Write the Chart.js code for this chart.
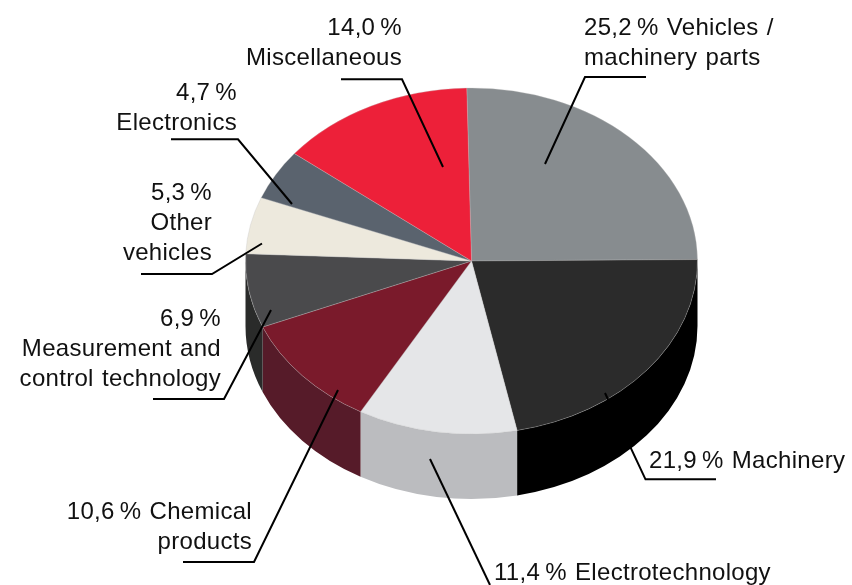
<!DOCTYPE html>
<html><head><meta charset="utf-8">
<style>html,body{margin:0;padding:0;background:#fff}canvas{display:block}</style>
<script src="https://cdn.jsdelivr.net/npm/chart.js@4"></script>
</head><body><canvas id="c" width="852" height="585"></canvas>
<script>
const categories = ['Vehicles / machinery parts','Machinery','Electrotechnology','Chemical products','Measurement and control technology','Other vehicles','Electronics','Miscellaneous'];
const shares = [25.2,21.9,11.4,10.6,6.9,5.3,4.7,14.0];
const topColours = ['#878c8f','#2b2b2b','#e5e6e8','#7a1a2b','#4a4a4c','#ede9dd','#5a636e','#ed2039'];
const sideColours = ['#5f6264','#000000','#bbbcbf','#561b29','#2a2b2a','#a8a59c','#3f464e','#a51728'];
const squash = 173/226, depth = 65;
const calloutTexts = [
 {lines:['25,2\u2009% Vehicles /','machinery parts'],x:584,y:[28,58],align:'left'},
 {lines:['21,9\u2009% Machinery'],x:649,y:[461],align:'left'},
 {lines:['11,4\u2009% Electrotechnology'],x:494,y:[573],align:'left'},
 {lines:['10,6\u2009% Chemical','products'],x:252,y:[512,542],align:'right'},
 {lines:['6,9\u2009%','Measurement and','control technology'],x:221,y:[319,349,379],align:'right'},
 {lines:['5,3\u2009%','Other','vehicles'],x:212,y:[193,223,253],align:'right'},
 {lines:['4,7\u2009%','Electronics'],x:237,y:[93,123],align:'right'},
 {lines:['14,0\u2009%','Miscellaneous'],x:402,y:[28,58],align:'right'}
];
const leaders = [
 [[646,77],[585,77],[545,164]],
 [[605,393],[645.5,479.3],[716,479.3]],
 [[430,459],[490,585]],
 [[183,562],[254,562],[338,390]],
 [[153,399],[224,399],[271,310]],
 [[141,274],[212,274],[262,243.5]],
 [[171,139.3],[238,139.3],[292,204]],
 [[341,79.3],[402,79.3],[443,167]]
];
const pie3d = {
 id:'pie3d',
 beforeDatasetsDraw(chart){
  const ctx=chart.ctx, arcs=chart.getDatasetMeta(0).data;
  arcs.forEach((a,i)=>{
   if(a.startAngle>=Math.PI||a.endAngle<=0){ return; }
   const from=Math.max(a.startAngle,0), to=Math.min(a.endAngle,Math.PI);
   const ry=a.outerRadius*squash;
   ctx.save();
   ctx.fillStyle=sideColours[i];
   ctx.beginPath();
   ctx.ellipse(a.x,a.y,a.outerRadius,ry,0,from,to);
   ctx.ellipse(a.x,a.y+depth,a.outerRadius,ry,0,to,from,true);
   ctx.closePath();
   ctx.fill();
   ctx.restore();
  });
  const a0=arcs[0];
  ctx.save();
  ctx.translate(a0.x,a0.y);ctx.scale(1,squash);ctx.translate(-a0.x,-a0.y);
 },
 afterDatasetsDraw(chart){
  const ctx=chart.ctx;
  ctx.restore();
  ctx.save();
  ctx.strokeStyle='#000';ctx.lineWidth=2;ctx.lineJoin='miter';
  leaders.forEach(p=>{ctx.beginPath();p.forEach((q,i)=>i?ctx.lineTo(q[0],q[1]):ctx.moveTo(q[0],q[1]));ctx.stroke();});
  ctx.fillStyle='#111';ctx.font='24px "Liberation Sans"';ctx.textBaseline='middle';
  ctx.letterSpacing='0.3px';ctx.wordSpacing='1.2px';
  calloutTexts.forEach(t=>{ctx.textAlign=t.align;t.lines.forEach((l,i)=>ctx.fillText(l,t.x,t.y[i]));});
  ctx.restore();
 }
};
new Chart(document.getElementById('c'),{
 type:'pie',
 data:{labels:categories,datasets:[{data:shares,backgroundColor:topColours,borderColor:'rgba(190,190,190,0.6)',borderWidth:0.6}]},
 options:{responsive:false,animation:false,radius:226,rotation:-1.2,
  layout:{padding:{left:91,right:0,top:0,bottom:63}},
  plugins:{legend:{display:false},tooltip:{enabled:false}}},
 plugins:[pie3d]
});
</script></body></html>
